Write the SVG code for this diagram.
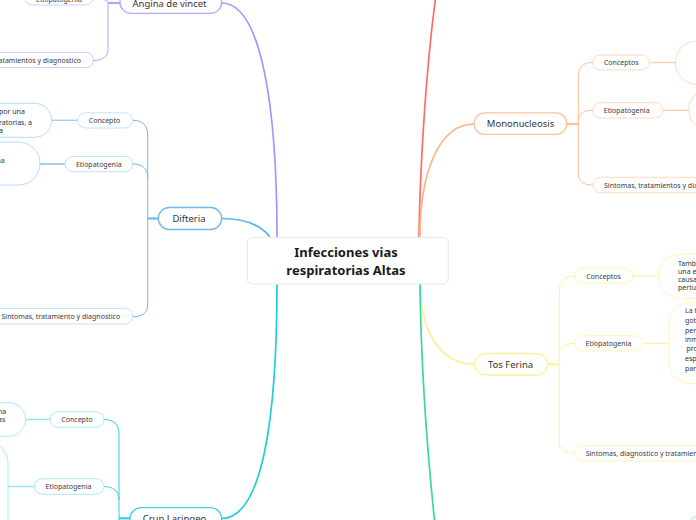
<svg xmlns="http://www.w3.org/2000/svg" width="696" height="520" viewBox="0 0 696 520">
<style>
text{font-family:"Noto Sans","Open Sans","DejaVu Sans",sans-serif;}
.main{font-size:9.5px;fill:#333;text-anchor:middle;}
.sub{font-size:7px;fill:#3a3a3a;text-anchor:middle;}
.subl{font-size:7px;fill:#3a3a3a;}
.cnt{font-size:7px;fill:#333;}
.ctr{font-size:13px;font-weight:bold;fill:#1a1a1a;text-anchor:middle;}
.nb{fill:#fff;stroke-width:1.3;}
.cb{fill:#fff;stroke-width:1;}
.ln{fill:none;}
</style>
<rect width="696" height="520" fill="#fff"/>
<g id="connectors" class="ln">
  <path d="M277,237 C277,110 262,3 221.7,3" stroke="#a395ff" stroke-width="1.7" fill="none"/>
  <path d="M270,237 C260,224 245,218.5 221.7,218.5" stroke="#5fb0f5" stroke-width="1.7" fill="none"/>
  <path d="M277,284 C277,420 262,518.5 221.7,518.5" stroke="#20cdd8" stroke-width="1.7" fill="none"/>
  <path d="M419,237 C420,160 427,60 436,-5" stroke="#ff6b6b" stroke-width="1.7" fill="none"/>
  <path d="M420,237 C420,170 440,124 474,124" stroke="#ffb484" stroke-width="1.7" fill="none"/>
  <path d="M420,284 C420,330 440,364.3 474.7,364.3" stroke="#fff08a" stroke-width="1.7" fill="none"/>
  <path d="M420,284 C421,360 427,450 435,525" stroke="#3ad6a0" stroke-width="1.7" fill="none"/>
  <g stroke="#b0a5ff" stroke-width="1" fill="none">
    <path d="M120,3 L108,3" stroke-width="2.2"/>
    <path d="M93.3,-1 C103,-1 108,0 108,3 L108,50 C108,56 103,60.5 93.3,60.5"/>
  </g>
  <g stroke="#70b7f5" stroke-width="1" fill="none">
    <path d="M158.3,218.5 L147.7,218.5" stroke-width="2.2"/>
    <path d="M132.7,120.3 C142,120.3 147.7,125 147.7,135 L147.7,305 C147.7,313 142,316.7 132.7,316.7"/>
    <path d="M132.7,164 C142,164 147.7,168 147.7,178"/>
  </g>
  <g stroke="#35d0da" stroke-width="1" fill="none">
    <path d="M130,518.3 L119,518.3" stroke-width="2.2"/>
    <path d="M104,419.5 C113,419.5 119,424 119,434 L119,530"/>
    <path d="M104,486.5 C113,486.5 119,491 119,500"/>
  </g>
  <g stroke="#ffbf95" stroke-width="1" fill="none">
    <path d="M566.7,124 L578.3,124" stroke-width="2.2"/>
    <path d="M592.7,62.5 C583,62.5 578.3,67 578.3,77 L578.3,175 C578.3,181 583,185 592.7,185"/>
    <path d="M592.7,110.3 C583,110.3 578.3,114 578.3,122"/>
  </g>
  <g stroke="#fff09a" stroke-width="1" fill="none">
    <path d="M547.7,364.3 L559.3,364.3" stroke-width="2.2"/>
    <path d="M574.7,276 C565,276 559.3,281 559.3,291 L559.3,443 C559.3,449 565,453.3 574.7,453.3"/>
    <path d="M574.7,343.3 C565,343.3 559.3,347 559.3,355"/>
  </g>
  <g stroke-width="1.4" fill="none">
    <path d="M51.7,120.3 L77.7,120.3" stroke="#9fd0f8"/>
    <path d="M40,164 L65,164" stroke="#9fd0f8" stroke-width="2"/>
    <path d="M25.5,419.5 L50,419.5" stroke="#8fe3ea"/>
    <path d="M8,486.5 L34.3,486.5" stroke="#8fe3ea"/>
    <path d="M649.3,62.5 L675.3,62.5" stroke="#ffd0b0"/>
    <path d="M662.7,110.3 L688.7,110.3" stroke="#ffd0b0"/>
    <path d="M632.7,276 L658.3,276" stroke="#fff2a8"/>
    <path d="M643.3,343.3 L669,343.3" stroke="#fff2a8"/>
  </g>
</g>
<g id="central">
  <rect x="247.3" y="237.3" width="201" height="46.7" rx="5" fill="#fff" stroke="#e6e6e6" stroke-width="1"/>
  <text class="ctr" x="346" y="257.3">Infecciones vias</text>
  <text class="ctr" x="346" y="275">respiratorias Altas</text>
</g>
<g id="angina">
  <rect class="nb" x="120" y="-8.5" width="101.7" height="21.8" rx="10.9" stroke="#b4a9ff"/>
  <text class="main" x="169.5" y="6.5">Angina de vincet</text>
</g>
<g id="angina-etio">
  <rect class="cb" x="25" y="-10" width="68.3" height="15" rx="7.5" stroke="#d2ccff"/>
  <text class="sub" x="59" y="1.5">Etiopatogenia</text>
</g>
<g id="angina-sint">
  <rect class="cb" x="-80" y="52.5" width="173.5" height="15" rx="7.5" stroke="#d2ccff"/>
  <text class="subl" x="81" y="63" text-anchor="end">Sintomas, tratamientos y diagnostico</text>
</g>
<g id="difteria">
  <rect class="nb" x="158.3" y="207.5" width="63.4" height="22" rx="11" stroke="#70b7f5"/>
  <text class="main" x="189" y="221.8">Difteria</text>
</g>
<g id="dif-concepto">
  <rect class="cb" x="77.7" y="112.8" width="55" height="15.2" rx="7.6" stroke="#c3e1fb"/>
  <text class="sub" x="104.5" y="122.8">Concepto</text>
</g>
<g id="dif-concepto-txt">
  <rect class="cb" x="-130" y="103.3" width="181.7" height="34" rx="17" stroke="#b5daf9"/>
  <text class="cnt" x="-1" y="114">por una</text>
  <text class="cnt" x="-1" y="124.5">ratorias, a</text>
  <text class="cnt" x="-1" y="133">a</text>
</g>
<g id="dif-etio">
  <rect class="cb" x="65" y="156.5" width="67.7" height="15.2" rx="7.6" stroke="#c3e1fb"/>
  <text class="sub" x="98.8" y="166.5">Etiopatogenia</text>
</g>
<g id="dif-etio-txt">
  <rect class="cb" x="-130" y="142" width="170" height="43" rx="21.5" stroke="#b5daf9"/>
  <text class="cnt" x="-3.5" y="162.5">na</text>
</g>
<g id="dif-sint">
  <rect class="cb" x="-40" y="308.5" width="172.7" height="15.5" rx="7.7" stroke="#c3e1fb"/>
  <text class="subl" x="1.5" y="319">Sintomas, tratamiento y diagnostico</text>
</g>
<g id="crup">
  <rect class="nb" x="130" y="507.7" width="91.7" height="22" rx="11" stroke="#3dd4dd"/>
  <text class="main" x="174.5" y="522">Crup Laringeo</text>
</g>
<g id="crup-concepto">
  <rect class="cb" x="50" y="411.8" width="54" height="15.5" rx="7.7" stroke="#a8ecf0"/>
  <text class="sub" x="77" y="422">Concepto</text>
</g>
<g id="crup-concepto-txt">
  <rect class="cb" x="-150" y="402.7" width="175.5" height="33.5" rx="16.7" stroke="#a8ecf0"/>
  <text class="cnt" x="-2" y="413.5">na</text>
  <text class="cnt" x="-2" y="422">as</text>
</g>
<g id="crup-etio">
  <rect class="cb" x="34.3" y="478.8" width="69.7" height="15.5" rx="7.7" stroke="#a8ecf0"/>
  <text class="sub" x="68.5" y="489">Etiopatogenia</text>
</g>
<g id="crup-etio-txt">
  <rect class="cb" x="-150" y="443" width="158" height="130" rx="20" stroke="#a8ecf0"/>
</g>
<g id="mono">
  <rect class="nb" x="474" y="112.8" width="92.7" height="21.5" rx="10.7" stroke="#ffc39b"/>
  <text class="main" x="520.5" y="127">Mononucleosis</text>
</g>
<g id="mono-conceptos">
  <rect class="cb" x="592.7" y="55" width="56.6" height="15" rx="7.5" stroke="#ffd9c0"/>
  <text class="sub" x="621.3" y="65">Conceptos</text>
</g>
<g id="mono-conceptos-txt">
  <rect class="cb" x="675.3" y="41" width="120" height="43.3" rx="21.6" stroke="#ffd9c0"/>
</g>
<g id="mono-etio">
  <rect class="cb" x="592.7" y="102.7" width="70" height="15.3" rx="7.6" stroke="#ffd9c0"/>
  <text class="sub" x="626.7" y="112.8">Etiopatogenia</text>
</g>
<g id="mono-etio-txt">
  <rect class="cb" x="688.7" y="89" width="120" height="42" rx="21" stroke="#ffd9c0"/>
</g>
<g id="mono-sint">
  <rect class="cb" x="592.7" y="177.3" width="150" height="15.4" rx="7.7" stroke="#ffd9c0"/>
  <text class="subl" x="604" y="187.5">Sintomas, tratamientos y diagnostico</text>
</g>
<g id="tos">
  <rect class="nb" x="474.7" y="353.5" width="73" height="21.5" rx="10.7" stroke="#fff0a0"/>
  <text class="main" x="510.5" y="367.8">Tos Ferina</text>
</g>
<g id="tos-conceptos">
  <rect class="cb" x="574.7" y="268.3" width="58" height="15" rx="7.5" stroke="#fff4b8"/>
  <text class="sub" x="603.5" y="278.5">Conceptos</text>
</g>
<g id="tos-conceptos-txt">
  <rect class="cb" x="658.3" y="254" width="120" height="44.3" rx="22" stroke="#fff4b8"/>
  <text class="cnt" x="678" y="265.5">Tamb</text>
  <text class="cnt" x="678" y="273.5">una e</text>
  <text class="cnt" x="678" y="281.5">causa</text>
  <text class="cnt" x="678" y="289.5">pertu</text>
</g>
<g id="tos-etio">
  <rect class="cb" x="574.7" y="335.7" width="68.6" height="15.2" rx="7.6" stroke="#fff4b8"/>
  <text class="sub" x="608.5" y="345.8">Etiopatogenia</text>
</g>
<g id="tos-etio-txt">
  <rect class="cb" x="669" y="302.7" width="120" height="81" rx="21" stroke="#fff4b8"/>
  <text class="cnt" x="685" y="313.2">La t</text>
  <text class="cnt" x="685" y="322.8">got</text>
  <text class="cnt" x="685" y="332.5">per</text>
  <text class="cnt" x="685" y="341.8">inm</text>
  <text class="cnt" x="686.5" y="351.2">pro</text>
  <text class="cnt" x="685" y="361.2">esp</text>
  <text class="cnt" x="685" y="370.5">par</text>
</g>
<g id="tos-sint">
  <rect class="cb" x="574.7" y="445.7" width="150" height="15.3" rx="7.6" stroke="#fff4b8"/>
  <text class="subl" x="585.7" y="455.8">Sintomas, diagnostico y tratamiento</text>
</g>
<g id="green-node">
  <rect class="cb" x="689" y="516" width="100" height="20" rx="10" stroke="#8ee6cc"/>
</g>
</svg>
